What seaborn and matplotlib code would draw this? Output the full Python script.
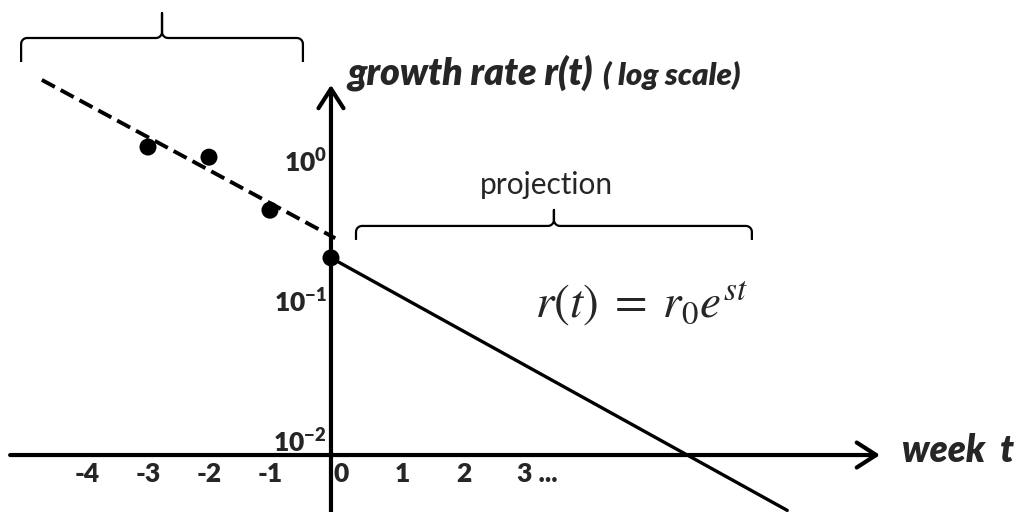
import numpy as np
import pandas as pd
import seaborn as sns
import matplotlib.pyplot as plt

# observed weekly growth rates (log scale)
weeks = [-3, -2, -1, 0]
rates = [1.30, 1.10, 0.46, 0.21]

# dashed fit through past weeks
fit_weeks = [-4.74, 0.07]
fit_rates = [3.92, 0.29]

# solid projection r(t) = r0 e^{st}
proj_weeks = [0, 7.48]
proj_rates = [0.21, 0.0033]

xtick_weeks = [-4, -3, -2, -1, 0, 1, 2, 3]
xtick_labels = ['-4', '-3', '-2', '-1', '0', '1', '2', '3 ...']
ytick_rates = [1, 0.1, 0.01]
ytick_labels = [r'$\mathbf{10}^{0}$', r'$\mathbf{10}^{-1}$', r'$\mathbf{10}^{-2}$']

XLIM = (-5.426, 11.279)
YLIM = (10 ** -2.493, 10 ** 1.164)
XAXIS_R = 10 ** -2.086


def brace(ax, x0, x1, y, depth, tip, rad=6, lw=1.6):
    px0, py = ax.transData.transform((x0, y))
    px1, _ = ax.transData.transform((x1, y))
    pm = (px0 + px1) / 2
    pts = [(px0, py - depth)]
    for a in np.linspace(np.pi, np.pi / 2, 8):
        pts.append((px0 + rad + rad * np.cos(a), py - rad + rad * np.sin(a)))
    for a in np.linspace(-np.pi / 2, 0, 8):
        pts.append((pm - rad + rad * np.cos(a), py + rad + rad * np.sin(a)))
    pts.append((pm, py + tip))
    for a in np.linspace(np.pi, 1.5 * np.pi, 8):
        pts.append((pm + rad + rad * np.cos(a), py + rad + rad * np.sin(a)))
    for a in np.linspace(np.pi / 2, 0, 8):
        pts.append((px1 - rad + rad * np.cos(a), py - rad + rad * np.sin(a)))
    pts.append((px1, py - depth))
    data = ax.transData.inverted().transform(np.array(pts))
    ax.plot(data[:, 0], data[:, 1], color='black', lw=lw, solid_capstyle='butt')


def main():
    sns.set_style('white')
    plt.rcParams['font.family'] = ['Lato', 'DejaVu Sans']
    plt.rcParams['mathtext.fontset'] = 'custom'
    plt.rcParams['mathtext.rm'] = 'Lato:heavy'
    plt.rcParams['mathtext.bf'] = 'Lato:heavy'
    plt.rcParams['mathtext.it'] = 'Lato:heavy'

    fig = plt.figure(figsize=(10.19, 5.12), dpi=100)
    ax = fig.add_axes([0, 0, 1, 1])
    ax.set_yscale('log')
    ax.set_xlim(*XLIM)
    ax.set_ylim(*YLIM)
    ax.axis('off')

    # axes with arrows
    arrow = dict(arrowstyle='->,head_length=0.7,head_width=0.45', lw=3,
                 color='black', shrinkA=0, shrinkB=0, mutation_scale=20)
    ax.annotate('', xy=(9.0, XAXIS_R), xytext=(-5.26, XAXIS_R), arrowprops=arrow)
    ax.annotate('', xy=(0, 3.61), xytext=(0, YLIM[0]), arrowprops=arrow)

    fit_df = pd.DataFrame({'week': fit_weeks, 'rate': fit_rates})
    proj_df = pd.DataFrame({'week': proj_weeks, 'rate': proj_rates})
    obs_df = pd.DataFrame({'week': weeks, 'rate': rates})

    sns.lineplot(data=fit_df, x='week', y='rate', ax=ax, color='black',
                 lw=2.8, linestyle=(0, (3.8, 1.7)))
    sns.lineplot(data=proj_df, x='week', y='rate', ax=ax, color='black', lw=2.4)
    sns.scatterplot(data=obs_df, x='week', y='rate', ax=ax, color='black',
                    s=150, edgecolor='none', zorder=5)
    ax.set_xlim(*XLIM)
    ax.set_ylim(*YLIM)
    ax.axis('off')

    # tick labels
    px_w = (XLIM[1] - XLIM[0]) / 1019
    for w, lab in zip(xtick_weeks, xtick_labels):
        if w < 0:
            ax.text(w, 10 ** -2.22, lab, ha='center', va='center',
                    fontsize=19, fontweight='heavy')
        else:
            ax.text(w + 3 * px_w, 10 ** -2.22, lab, ha='left', va='center',
                    fontsize=19, fontweight='heavy')
    for r, lab in zip(ytick_rates, ytick_labels):
        ax.text(-4 * px_w, r, lab, ha='right', va='center', fontsize=19,
                math_fontfamily='custom')

    # labels
    ax.text(0.262, 3.61, 'growth rate r(t)', ha='left', va='baseline',
            fontsize=27, fontweight='heavy', style='italic')
    ax.text(4.46, 3.61, '( log scale)', ha='left', va='baseline',
            fontsize=22.5, fontweight='heavy', style='italic')
    ax.text(9.36, 0.00731, 'week  t', ha='left', va='baseline',
            fontsize=26.5, fontweight='heavy', style='italic')
    ax.text(5.10, 0.0968, r'$r(t)\;=\;r_0e^{st}$', ha='center', va='center',
            fontsize=34, math_fontfamily='stix')
    ax.text(3.54, 0.697, 'projection', ha='center', va='center', fontsize=21.5)

    brace(ax, -5.08, -0.46, 7.81, depth=24, tip=25)
    brace(ax, 0.41, 6.9, 0.355, depth=14, tip=16)

    fig.savefig('out.png', dpi=100)
    plt.close(fig)


if __name__ == '__main__':
    main()
